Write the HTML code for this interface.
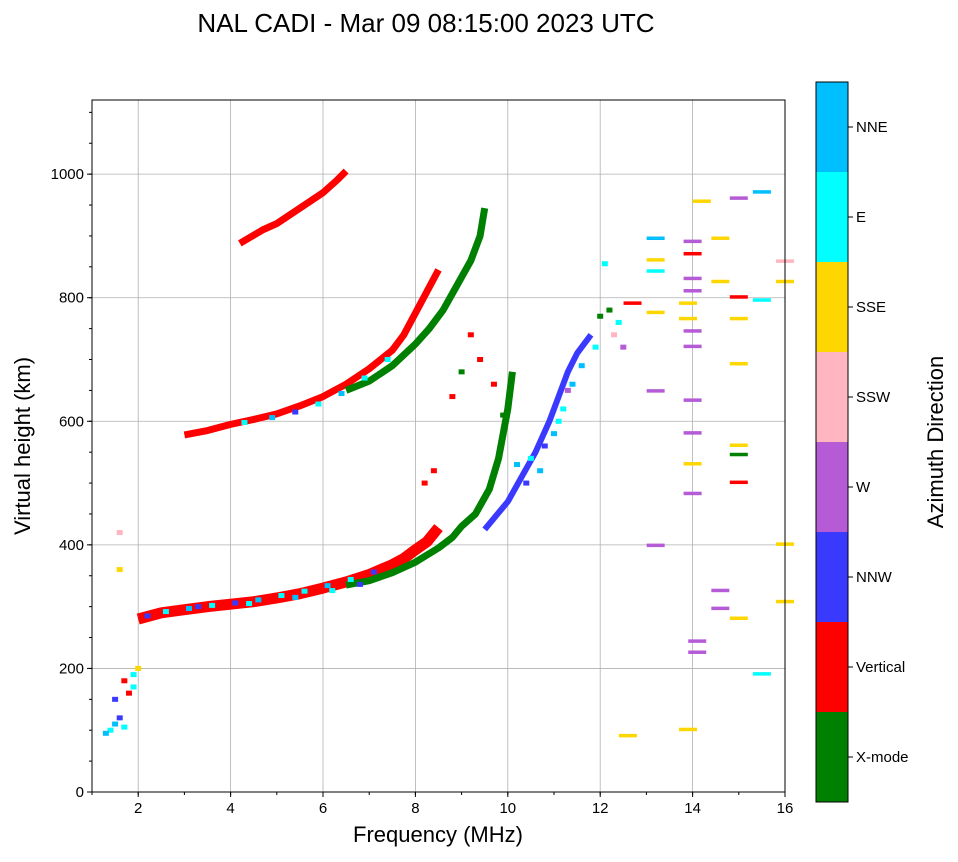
<!DOCTYPE html>
<html><head><meta charset="utf-8"><style>
body{margin:0;background:#fff;font-family:"Liberation Sans",sans-serif}
</style></head><body>
<svg id="c" width="958" height="857" xmlns="http://www.w3.org/2000/svg" font-family="Liberation Sans, sans-serif">
<text x="426" y="32" font-size="26" text-anchor="middle">NAL CADI - Mar 09 08:15:00 2023 UTC</text>
<g id="grid"></g><g id="marks"></g><g id="axes"></g><g id="cbar"></g>
<text x="438" y="842" font-size="22" text-anchor="middle">Frequency (MHz)</text>
<text transform="translate(30,446) rotate(-90)" font-size="22" text-anchor="middle">Virtual height (km)</text>
<text transform="translate(943,442) rotate(-90)" font-size="22" text-anchor="middle">Azimuth Direction</text>
</svg>
<script>
const modeNames=["X-mode","Vertical","NNW","W","SSW","SSE","E","NNE"];
const modeColors=["#008000","#ff0000","#3a3aff","#b65bd6","#ffb6c1","#ffd700","#00ffff","#00bfff"];
const xTicks=[2,4,6,8,10,12,14,16];
const yTicks=[0,200,400,600,800,1000];
const traceModes=[1,0,1,1,2,0];
const traceFreqs=[
[2.0,2.5,3,3.5,4,4.5,5,5.5,6,6.5,7,7.5,7.75,8,8.25,8.5],
[6.5,7,7.5,8,8.5,8.8,9,9.3,9.6,9.8,9.9,10,10.1],
[3,3.5,4,4.5,5,5.5,6,6.5,7,7.5,7.75,8,8.25,8.5],
[4.2,4.7,5,5.3,5.6,6,6.3,6.5],
[9.5,10,10.3,10.6,10.9,11.1,11.3,11.5,11.8],
[6.5,7,7.5,8,8.3,8.6,8.9,9.2,9.4,9.5]];
const traceHeights=[
[280,290,295,300,304,308,314,321,330,340,352,368,378,392,405,428],
[335,342,355,372,395,412,430,450,490,540,580,620,680],
[578,585,595,603,612,625,640,660,685,715,740,775,810,845],
[888,910,920,935,950,970,990,1005],
[425,470,510,550,600,640,680,710,740],
[650,665,690,725,750,780,820,860,900,945]];
const echoFreq=[2.2,2.6,3.1,3.6,4.1,4.6,5.1,5.6,6.1,6.6,7.1,3.3,4.4,5.4,6.2,6.8,
4.3,4.9,5.4,5.9,6.4,6.9,7.4,
10.2,10.5,10.8,11.0,11.2,11.4,10.4,10.7,11.1,11.3,11.6,11.9,12.0,12.3,12.5,12.2,12.4,
9.2,9.4,9.7,9.9,9.0,8.8,8.4,8.2,
1.4,1.5,1.6,1.7,1.8,1.9,1.5,1.7,1.6,1.9,1.3,1.6,2.0,
14,14,14,14,14,14,14,14,14,14,14.1,14.1,13.9,13.9,13.9,14.2,14.6,14.6,15,15,15,15,15,15,15,15.5,15.5,15.5,16,16,16,16,13.2,13.2,13.2,13.2,13.2,13.2,12.6,14.6,14.6,15,12.7,12.1],
echoHeight=[285,292,297,302,306,311,318,325,334,344,356,300,305,315,326,336,
598,606,615,628,645,670,700,
530,540,560,580,620,660,500,520,600,650,690,720,770,740,720,780,760,
740,700,660,610,680,640,520,500,
100,110,120,105,160,170,150,180,420,190,95,360,200,
890,870,830,810,745,720,633,580,530,482,243,225,790,765,100,955,895,825,800,765,692,560,545,500,280,970,795,190,858,825,400,307,895,860,842,775,648,398,90,325,296,960,790,855];
const echoMode=[2,6,7,6,2,7,6,6,7,6,2,2,6,7,6,2,
6,7,2,6,7,6,6,
7,6,2,7,6,7,2,7,6,3,7,6,0,4,3,0,6,
1,1,1,0,0,1,1,1,
6,7,2,6,1,6,2,1,4,6,7,5,5,
3,1,3,3,3,3,3,3,5,3,3,3,5,5,5,5,5,5,1,5,5,5,0,1,5,7,6,6,4,5,5,5,7,5,6,5,3,3,5,3,3,3,1,6];
const X0=92,X1=785,Y0=792,Y1=100;
const xs=f=>X0+(f-1)/15*(X1-X0);
const ys=h=>Y0-h/1120*(Y0-Y1);
const NS="http://www.w3.org/2000/svg";
function mk(p,t,a){const e=document.createElementNS(NS,t);for(const k in a)e.setAttribute(k,a[k]);p.appendChild(e);return e;}
const G=document.getElementById('grid'),M=document.getElementById('marks'),A=document.getElementById('axes'),C=document.getElementById('cbar');
xTicks.forEach(t=>{const l=mk(G,'line',{x1:xs(t),x2:xs(t),y1:Y1,y2:Y0,stroke:'#b0b0b0','stroke-width':0.8});

const tx=mk(A,'text',{x:xs(t),y:Y0+21,'font-size':15,'text-anchor':'middle'});tx.textContent=t;

mk(A,'line',{x1:xs(t),x2:xs(t),y1:Y0,y2:Y0+5,stroke:'#000'});});
for(let f=1;f<=16;f++)mk(A,'line',{x1:xs(f),x2:xs(f),y1:Y0,y2:Y0+3,stroke:'#000'});
yTicks.forEach(t=>{const l=mk(G,'line',{x1:X0,x2:X1,y1:ys(t),y2:ys(t),stroke:'#b0b0b0','stroke-width':0.8});

const tx=mk(A,'text',{x:X0-8,y:ys(t)+5,'font-size':15,'text-anchor':'end'});tx.textContent=t;

mk(A,'line',{x1:X0-5,x2:X0,y1:ys(t),y2:ys(t),stroke:'#000'});});
for(let h=0;h<=1100;h+=50)mk(A,'line',{x1:X0-3,x2:X0,y1:ys(h),y2:ys(h),stroke:'#000'});
const fr=mk(A,'rect',{x:X0,y:Y1,width:X1-X0,height:Y0-Y1,fill:'none',stroke:'#000'});

traceModes.forEach((m,i)=>{const pts=traceFreqs[i].map((f,j)=>xs(f)+','+ys(traceHeights[i][j])).join(' ');
const p=mk(M,'polyline',{points:pts,fill:'none',stroke:modeColors[m],'stroke-width':i==0?11:(i==4?6:7),'stroke-linejoin':'round'});
});
echoFreq.forEach((f,i)=>{const w=f>12.5?18:6;
const r=mk(M,'rect',{x:xs(f)-w/2,y:ys(echoHeight[i])-2.5,width:w,height:f>12.5?3.5:5,fill:modeColors[echoMode[i]]});
});
const CB0=802,CBH=90;
modeNames.forEach((n,i)=>{const y=CB0-(i+1)*CBH;
const r=mk(C,'rect',{x:816,y:y,width:32,height:CBH,fill:modeColors[i]});

mk(C,'line',{x1:848,x2:853,y1:y+CBH/2,y2:y+CBH/2,stroke:'#000'});
const t=mk(C,'text',{x:856,y:y+CBH/2+5,'font-size':15});t.textContent=n;
});
mk(C,'rect',{x:816,y:82,width:32,height:720,fill:'none',stroke:'#000'});
</script>
</body></html>
